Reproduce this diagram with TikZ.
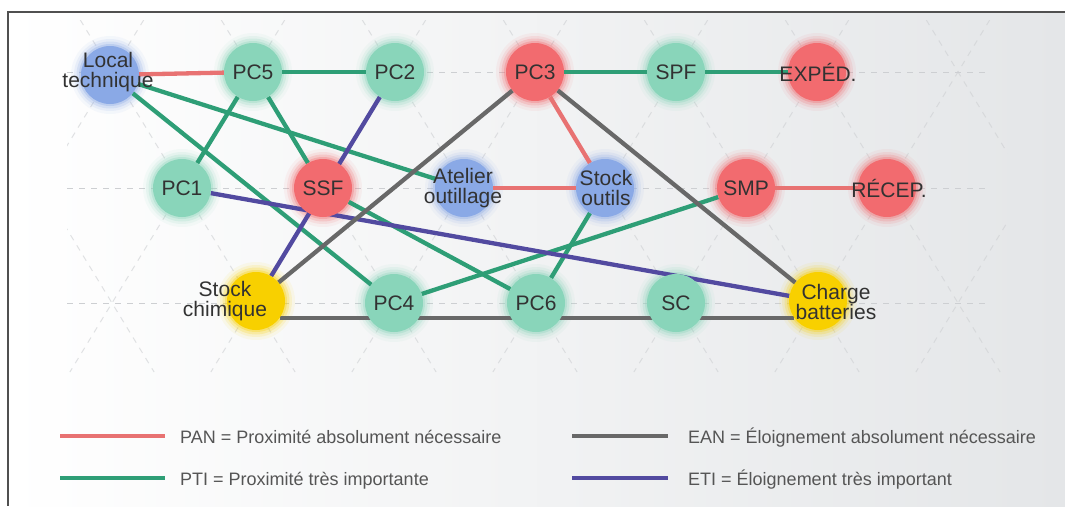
\documentclass[tikz,border=0pt]{standalone}
\usepackage{fontspec}
\setmainfont{Liberation Sans}

\definecolor{stgreen}{RGB}{137,213,186}
\definecolor{stred}{RGB}{242,107,111}
\definecolor{stblue}{RGB}{138,169,230}
\definecolor{styellow}{RGB}{248,208,0}
\definecolor{lnred}{RGB}{232,114,114}
\definecolor{lngreen}{RGB}{46,158,118}
\definecolor{lngrey}{RGB}{104,104,104}
\definecolor{lnpurple}{RGB}{82,74,160}
\definecolor{txtgrey}{RGB}{50,50,50}
\definecolor{legtxt}{RGB}{85,85,85}
\definecolor{bgright}{RGB}{228,230,232}
\definecolor{latticegrey}{RGB}{205,207,210}
\definecolor{framegrey}{RGB}{80,80,80}

\pgfdeclarelayer{bglayer}
\pgfdeclarelayer{halolayer}
\pgfdeclarelayer{edgelayer}
\pgfsetlayers{bglayer,halolayer,edgelayer,main}

\begin{document}
\begin{tikzpicture}[x=1pt,y=-1pt,
  station/.style={circle, minimum size=58pt, inner sep=0pt, draw=none},
  caption/.style={align=center, text=txtgrey, inner sep=0pt,
    font=\fontsize{21}{20.5}\selectfont},
  legendtext/.style={text=legtxt, inner sep=0pt, anchor=base west,
    font=\fontsize{18}{20}\selectfont},
  link/.style={line width=4.3pt},
  pan/.style={link, draw=lnred},
  pti/.style={link, draw=lngreen},
  ean/.style={link, draw=lngrey},
  eti/.style={link, draw=lnpurple},
  lattice/.style={draw=latticegrey, line width=1pt, dash pattern=on 6pt off 6pt},
  latticediag/.style={lattice, draw opacity=0.6},
]
\useasboundingbox (0,0) rectangle (1065,506);

% ---- background, frame and triangular lattice ----
\begin{pgfonlayer}{bglayer}
  \fill[white] (0,0) rectangle (1065,506);
  \shade[left color=white, right color=bgright] (8,12) rectangle (1065,506);
  \begin{scope}
    \clip (67,20) rectangle (1007,372);
    \foreach \k in {-2,...,9} {
      \draw[latticediag] ({80.3+141*\k},20) -- ({295.1+141*\k},372);
      \draw[latticediag] ({143.7+141*\k},20) -- ({-71.1+141*\k},372);
    }
  \end{scope}
  \foreach \yy in {72,188,303}
    \draw[lattice] (67,\yy) -- (987,\yy);
  \draw[framegrey, line width=1.3pt] (1065,12) -- (8,12) -- (8,506);
\end{pgfonlayer}

% ---- stations ----
\node[station, fill=stblue]   (loc)    at (110,75)  {};
\node[station, fill=stgreen]  (pc5)    at (253,72)  {};
\node[station, fill=stgreen]  (pc2)    at (395,72)  {};
\node[station, fill=stred]    (pc3)    at (535,72)  {};
\node[station, fill=stgreen]  (spf)    at (676,72)  {};
\node[station, fill=stred]    (exped)  at (817,72)  {};
\node[station, fill=stgreen]  (pc1)    at (182,188) {};
\node[station, fill=stred]    (ssf)    at (323,188) {};
\node[station, fill=stblue]   (atel)   at (464,188) {};
\node[station, fill=stblue]   (sout)   at (605,188) {};
\node[station, fill=stred]    (smp)    at (746,188) {};
\node[station, fill=stred]    (recep)  at (887,188) {};
\node[station, fill=styellow] (chim)   at (256,301) {};
\node[station, fill=stgreen]  (pc4)    at (394,303) {};
\node[station, fill=stgreen]  (pc6)    at (536,303) {};
\node[station, fill=stgreen]  (sc)     at (676,303) {};
\node[station, fill=styellow] (charge) at (818,301) {};

% ---- soft halos around the stations ----
\begin{pgfonlayer}{halolayer}
  \foreach \n/\c in {loc/stblue, pc5/stgreen, pc2/stgreen, pc3/stred,
      spf/stgreen, exped/stred, pc1/stgreen, ssf/stred, atel/stblue,
      sout/stblue, smp/stred, recep/stred, chim/styellow, pc4/stgreen,
      pc6/stgreen, sc/stgreen, charge/styellow}
    \foreach \r/\o in {39/0.07, 36/0.12, 33.5/0.2, 31/0.3}
      \fill[\c, opacity=\o] (\n.center) circle (\r pt);
\end{pgfonlayer}

% ---- station labels ----
\node[caption] (loc-t)    at (108,72)  {Local\\technique};
\node[caption] (pc5-t)    at (pc5)     {PC5};
\node[caption] (pc2-t)    at (pc2)     {PC2};
\node[caption] (pc3-t)    at (pc3)     {PC3};
\node[caption] (spf-t)    at (spf)     {SPF};
\node[caption] (exped-t)  at (818,72)  {EXPÉD.};
\node[caption] (pc1-t)    at (pc1)     {PC1};
\node[caption] (ssf-t)    at (ssf)     {SSF};
\node[caption] (atel-t)   at (463,188) {Atelier\\outillage};
\node[caption] (sout-t)   at (606,188) {Stock\\outils};
\node[caption] (smp-t)    at (smp)     {SMP};
\node[caption] (recep-t)  at (889,188) {RÉCEP.};
\node[caption] (chim-t)   at (225,301) {Stock\\chimique};
\node[caption] (pc4-t)    at (pc4)     {PC4};
\node[caption] (pc6-t)    at (pc6)     {PC6};
\node[caption] (sc-t)     at (sc)      {SC};
\node[caption] (charge-t) at (836,302) {Charge\\batteries};

% ---- relations between stations ----
\begin{pgfonlayer}{edgelayer}
  % absolutely necessary proximity
  \draw[pan] (loc) -- (pc5);
  \draw[pan] (pc3) -- (sout);
  \draw[pan] (atel) -- (sout);
  \draw[pan] (smp) -- (recep);
  % very important proximity
  \draw[pti] (pc5) -- (pc2);
  \draw[pti] (pc3) -- (spf);
  \draw[pti] (spf) -- (exped);
  \draw[pti] (pc5) -- (pc1);
  \draw[pti] (pc5) -- (ssf);
  \draw[pti] (loc) -- (atel);
  \draw[pti] (loc) -- (pc4);
  \draw[pti] (ssf) -- (pc6);
  \draw[pti] (pc4) -- (smp);
  \draw[pti] (sout) -- (pc6);
  % very important distance
  \draw[eti] (pc2) -- (chim);
  \draw[eti] (pc1) -- (charge);
  % absolutely necessary distance
  \draw[ean] (pc3) -- (chim);
  \draw[ean] (pc3) -- (charge);
  \draw[ean] (chim.-36) -- (charge.-144);
\end{pgfonlayer}

% ---- legend ----
\coordinate (k1a) at (60,436);  \coordinate (k1b) at (165,436);
\coordinate (k2a) at (60,478);  \coordinate (k2b) at (165,478);
\coordinate (k3a) at (572,436); \coordinate (k3b) at (668,436);
\coordinate (k4a) at (572,478); \coordinate (k4b) at (668,478);
\draw[pan, line width=4pt] (k1a) -- (k1b);
\draw[pti, line width=4pt] (k2a) -- (k2b);
\draw[ean, line width=4pt] (k3a) -- (k3b);
\draw[eti, line width=4pt] (k4a) -- (k4b);
\node[legendtext] (k1t) at (180,443) {PAN = Proximité absolument nécessaire};
\node[legendtext] (k2t) at (180,485) {PTI = Proximité très importante};
\node[legendtext] (k3t) at (688,443) {EAN = Éloignement absolument nécessaire};
\node[legendtext] (k4t) at (688,485) {ETI = Éloignement très important};
\end{tikzpicture}
\end{document}
